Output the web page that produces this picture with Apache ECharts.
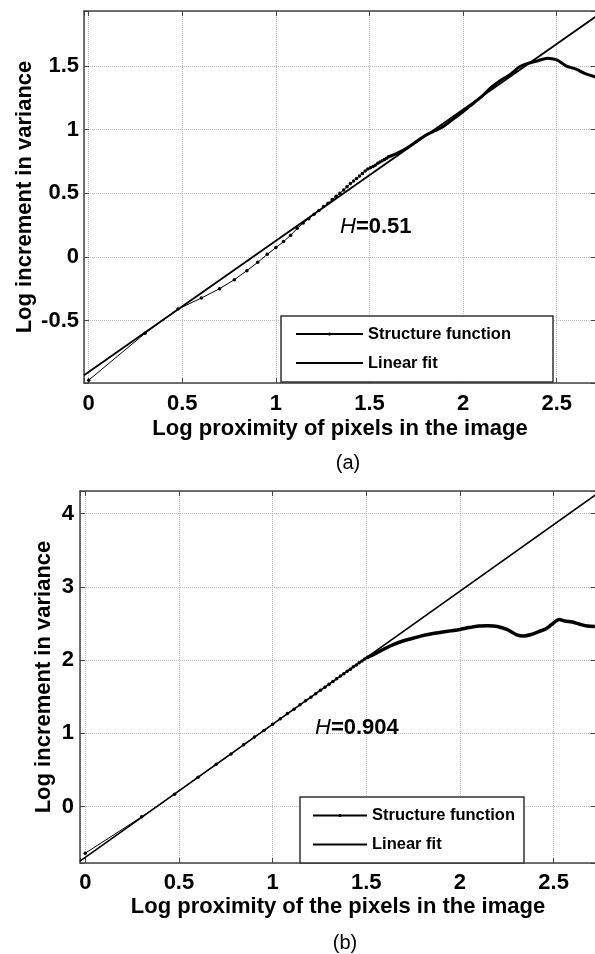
<!DOCTYPE html>
<html>
<head>
<meta charset="utf-8">
<script src="https://cdn.jsdelivr.net/npm/echarts@6/dist/echarts.min.js"></script>
<style>
    html, body {margin: 0; padding: 0; background: #fff;}
    #main {width: 595px; height: 954px;}
</style>
</head>
<body>
<div id="main"></div>
<script>
"use strict";

// (a) structure function: log proximity (log10 n) and log increment in variance
var lagA = [0, 0.301, 0.477, 0.602, 0.699, 0.778, 0.845, 0.903, 0.954, 1.0,
    1.041, 1.079, 1.114, 1.146, 1.176, 1.204, 1.230, 1.255, 1.279, 1.301,
    1.322, 1.342, 1.362, 1.380, 1.398, 1.415, 1.431, 1.447, 1.462, 1.477,
    1.491, 1.505, 1.519, 1.531, 1.544, 1.556, 1.568, 1.580, 1.591, 1.602];
var incA = [-0.968, -0.60, -0.41, -0.323, -0.25, -0.179, -0.108, -0.043, 0.02, 0.073,
    0.12, 0.17, 0.224, 0.265, 0.30, 0.335, 0.365, 0.395, 0.42, 0.45,
    0.475, 0.50, 0.525, 0.55, 0.575, 0.595, 0.615, 0.635, 0.655, 0.675,
    0.69, 0.70, 0.71, 0.72, 0.735, 0.745, 0.755, 0.765, 0.775, 0.785];
// (a) dense part of the curve (markers merge into a thick line)
var tailLagA = [1.65, 1.70, 1.75, 1.80, 1.85, 1.90, 1.95, 2.00, 2.05, 2.10, 2.15,
    2.20, 2.25, 2.30, 2.35, 2.40, 2.45, 2.50, 2.55, 2.60, 2.65, 2.71];
var tailIncA = [0.815, 0.855, 0.905, 0.955, 0.99, 1.03, 1.085, 1.14, 1.20, 1.26, 1.33,
    1.385, 1.43, 1.49, 1.52, 1.54, 1.56, 1.547, 1.50, 1.475, 1.44, 1.41];
var fitLagA = [-0.025, 2.71];
var fitIncA = [-0.930, 1.887];

// (b)
var lagB = [0, 0.301, 0.477, 0.602, 0.699, 0.778, 0.845, 0.903, 0.954, 1.0,
    1.041, 1.079, 1.114, 1.146, 1.176, 1.204, 1.230, 1.255, 1.279, 1.301,
    1.322, 1.342, 1.362, 1.380, 1.398, 1.415, 1.431, 1.447, 1.462, 1.477,
    1.491, 1.505];
var incB = [-0.636, -0.14, 0.17, 0.40, 0.58, 0.72, 0.845, 0.95, 1.04, 1.125,
    1.20, 1.27, 1.33, 1.39, 1.445, 1.495, 1.54, 1.59, 1.63, 1.67,
    1.71, 1.745, 1.783, 1.815, 1.849, 1.875, 1.909, 1.935, 1.965, 1.99,
    2.015, 2.035];
var tailLagB = [1.55, 1.60, 1.65, 1.70, 1.75, 1.80, 1.85, 1.90, 1.95, 2.00, 2.05, 2.10,
    2.15, 2.20, 2.25, 2.30, 2.34, 2.38, 2.42, 2.46, 2.50, 2.53, 2.56, 2.60, 2.64, 2.68, 2.72];
var tailIncB = [2.09, 2.16, 2.22, 2.265, 2.30, 2.335, 2.36, 2.38, 2.40, 2.42, 2.445, 2.465,
    2.47, 2.46, 2.42, 2.35, 2.33, 2.35, 2.39, 2.43, 2.51, 2.555, 2.535, 2.52, 2.49, 2.465, 2.46];
var fitLagB = [-0.028, 2.726];
var fitIncB = [-0.744, 4.263];

var legendNames = ["Structure function", "Linear fit"];

var FONT = "'Liberation Sans', Arial, sans-serif";
var AXIS_COLOR = "#444";

function pairs(xs, ys) {
    return xs.map(function (x, i) { return [x, ys[i]]; });
}

// hide labels at the axis ends (min/max are not nice numbers)
function tickFormatter(step) {
    return function (v) {
        var k = v / step;
        return Math.abs(k - Math.round(k)) < 1e-6 ? String(+v.toFixed(2)) : "";
    };
}

function mainAxis(gridIndex, position, min, max, step, name, nameGap, labelMargin) {
    return {
        type: "value",
        gridIndex: gridIndex,
        position: position,
        min: min,
        max: max,
        name: name,
        nameLocation: "middle",
        nameGap: nameGap,
        nameMoveOverlap: false,
        nameTextStyle: {fontFamily: FONT, fontSize: 22, fontWeight: "bold", color: "#000"},
        axisLine: {show: true, onZero: false, lineStyle: {color: AXIS_COLOR, width: 1.5}},
        axisTick: {show: true, inside: true, length: 5, lineStyle: {color: AXIS_COLOR, width: 1}},
        axisLabel: {
            fontFamily: FONT, fontSize: 22, fontWeight: "bold", color: "#000",
            margin: labelMargin, formatter: tickFormatter(step)
        },
        splitLine: {show: true, lineStyle: {color: "#bdbdbd", type: "dotted", width: 1}}
    };
}

function boxAxis(gridIndex, position, min, max) {
    return {
        type: "value",
        gridIndex: gridIndex,
        position: position,
        min: min,
        max: max,
        axisLine: {show: true, onZero: false, lineStyle: {color: AXIS_COLOR, width: 1.5}},
        axisTick: {show: true, inside: true, length: 5, lineStyle: {color: AXIS_COLOR, width: 1}},
        axisLabel: {show: false},
        splitLine: {show: false}
    };
}

function legendFor(left, top, itemWidth, padding) {
    return {
        data: [
            {name: legendNames[0]},
            {name: legendNames[1], itemStyle: {opacity: 0}}
        ],
        orient: "vertical",
        left: left,
        top: top,
        itemWidth: itemWidth,
        itemHeight: 4,
        itemGap: 12,
        padding: padding,
        selectedMode: false,
        backgroundColor: "#fff",
        borderColor: "#333",
        borderWidth: 1.5,
        borderRadius: 0,
        textStyle: {fontFamily: FONT, fontSize: 16.5, fontWeight: "bold", color: "#000"}
    };
}

var chart = echarts.init(document.getElementById("main"));

var option = {
    animation: false,
    backgroundColor: "#fff",
    grid: [
        {left: 84, top: 11, width: 512, height: 372, outerBoundsMode: "none"},
        {left: 80, top: 491, width: 516, height: 372, outerBoundsMode: "none"}
    ],
    xAxis: [
        mainAxis(0, "bottom", -0.025, 2.71, 0.5, "Log proximity of pixels in the image", 35, 10),
        boxAxis(0, "top", -0.025, 2.71),
        mainAxis(1, "bottom", -0.028, 2.726, 0.5, "Log proximity of the pixels in the image", 33, 9),
        boxAxis(1, "top", -0.028, 2.726)
    ],
    yAxis: [
        mainAxis(0, "left", -0.99, 1.93, 0.5, "Log increment in variance", 48, 5),
        boxAxis(0, "right", -0.99, 1.93),
        mainAxis(1, "left", -0.77, 4.31, 1, "Log increment in variance", 25, 6),
        boxAxis(1, "right", -0.77, 4.31)
    ],
    legend: [
        legendFor(281, 316, 67, [9.5, 42, 10.5, 14]),
        legendFor(300, 797, 54, [10, 9, 10, 12])
    ],
    series: [
        {
            name: legendNames[0], type: "line", xAxisIndex: 0, yAxisIndex: 0,
            data: pairs(lagA, incA),
            symbol: "circle", symbolSize: 3.5, showSymbol: true,
            lineStyle: {color: "#000", width: 1},
            itemStyle: {color: "#000"},
            z: 4
        },
        {
            name: legendNames[0], type: "line", xAxisIndex: 0, yAxisIndex: 0,
            data: pairs([lagA[lagA.length - 1]].concat(tailLagA), [incA[incA.length - 1]].concat(tailIncA)),
            symbol: "none", smooth: 0.3,
            lineStyle: {color: "#000", width: 3},
            z: 4
        },
        {
            name: legendNames[1], type: "line", xAxisIndex: 0, yAxisIndex: 0,
            data: pairs(fitLagA, fitIncA),
            symbol: "none",
            lineStyle: {color: "#000", width: 1.8},
            itemStyle: {color: "#000"},
            z: 3
        },
        {
            name: legendNames[0], type: "line", xAxisIndex: 2, yAxisIndex: 2,
            data: pairs(lagB, incB),
            symbol: "circle", symbolSize: 3.5,
            lineStyle: {color: "#000", width: 1},
            itemStyle: {color: "#000"},
            z: 4
        },
        {
            name: legendNames[0], type: "line", xAxisIndex: 2, yAxisIndex: 2,
            data: pairs([lagB[lagB.length - 1]].concat(tailLagB), [incB[incB.length - 1]].concat(tailIncB)),
            symbol: "none", smooth: 0.3,
            lineStyle: {color: "#000", width: 3.5},
            z: 4
        },
        {
            name: legendNames[1], type: "line", xAxisIndex: 2, yAxisIndex: 2,
            data: pairs(fitLagB, fitIncB),
            symbol: "none",
            lineStyle: {color: "#000", width: 1.6},
            itemStyle: {color: "#000"},
            z: 3
        }
    ],
    graphic: [
        {
            type: "text", x: 340, y: 227, z: 10,
            style: {
                text: "{h|H}{v|=0.51}", verticalAlign: "middle",
                rich: {
                    h: {fontFamily: FONT, fontSize: 22, fontStyle: "italic", fill: "#000"},
                    v: {fontFamily: FONT, fontSize: 22, fontWeight: "bold", fill: "#000"}
                }
            }
        },
        {
            type: "text", x: 315, y: 728, z: 10,
            style: {
                text: "{h|H}{v|=0.904}", verticalAlign: "middle",
                rich: {
                    h: {fontFamily: FONT, fontSize: 22, fontStyle: "italic", fill: "#000"},
                    v: {fontFamily: FONT, fontSize: 22, fontWeight: "bold", fill: "#000"}
                }
            }
        },
        {
            type: "text", x: 348, y: 463,
            style: {text: "(a)", font: "20px " + FONT, fill: "#000", align: "center", verticalAlign: "middle"}
        },
        {
            type: "text", x: 345, y: 943,
            style: {text: "(b)", font: "20px " + FONT, fill: "#000", align: "center", verticalAlign: "middle"}
        }
    ]
};

chart.setOption(option);
</script>
</body>
</html>
